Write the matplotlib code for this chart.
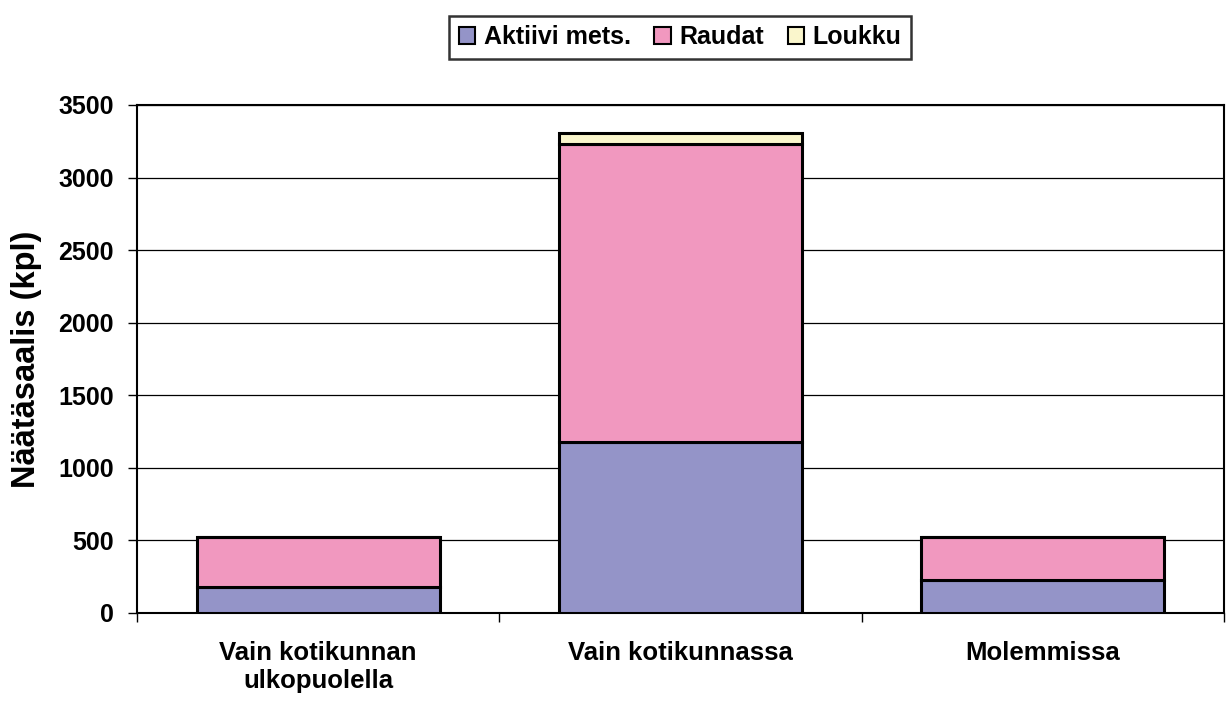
import matplotlib
matplotlib.use("Agg")
import matplotlib.pyplot as plt
import numpy as np

categories = ["Vain kotikunnan\nulkopuolella", "Vain kotikunnassa", "Molemmissa"]
aktiivi = [178, 1175, 225]
raudat = [348, 2057, 299]
loukku = [0, 77, 0]
series_names = ["Aktiivi mets.", "Raudat", "Loukku"]
colors = ["#9494C8", "#F198BF", "#FAF6CC"]
yticks = [0, 500, 1000, 1500, 2000, 2500, 3000, 3500]

plt.rcParams['font.family'] = ['Liberation Sans', 'DejaVu Sans']
plt.rcParams['font.weight'] = 'bold'

fig = plt.figure(figsize=(12.26, 7.02), dpi=100)
ax = fig.add_axes([137/1226, 1 - 613/702, (1224-137)/1226, (613-105)/702])

x = np.arange(len(categories))
w = 0.67
bottom = np.zeros(len(categories))
handles = []
for vals, name, c in zip([aktiivi, raudat, loukku], series_names, colors):
    b = ax.bar(x, vals, w, bottom=bottom, color=c, edgecolor='black', linewidth=2.2, label=name, zorder=3)
    bottom += np.array(vals)
    handles.append(b)

ax.set_xlim(-0.5, 2.5)
ax.set_ylim(0, 3500)
ax.set_yticks(yticks)
ax.set_yticklabels([str(t) for t in yticks], fontsize=18, fontweight='bold')
ax.yaxis.grid(True, color='black', linewidth=0.9, zorder=0)
ax.set_xticks([-0.5, 0.5, 1.5, 2.5])
ax.set_xticklabels([])
ax.set_xticks(x, minor=True)
ax.set_xticklabels(categories, minor=True, fontsize=18.5, fontweight='bold')
ax.tick_params(axis='x', which='minor', length=0, pad=20)
ax.tick_params(axis='x', which='major', length=6.5, width=1, direction='out')
ax.tick_params(axis='y', length=6.5, width=1, direction='out', pad=10)
for s in ax.spines.values():
    s.set_linewidth(1.5)
ax.set_ylabel("Näätäsaalis (kpl)", fontsize=23.5, fontweight='bold')
ax.yaxis.set_label_coords(-0.087, 0.5)

leg = fig.legend(handles=handles, labels=series_names, loc='center',
                 bbox_to_anchor=(680/1226, 1 - 37/702), ncol=3, frameon=True,
                 fancybox=False, edgecolor='black',
                 handlelength=0.65, handleheight=0.65, handletextpad=0.35,
                 columnspacing=0.95, borderpad=0.38, borderaxespad=0,
                 prop={'weight': 'bold', 'size': 18})
leg.get_frame().set_linewidth(1.8)
for p in leg.get_patches():
    p.set_linewidth(1.5)

fig.savefig("out.png", dpi=100)
